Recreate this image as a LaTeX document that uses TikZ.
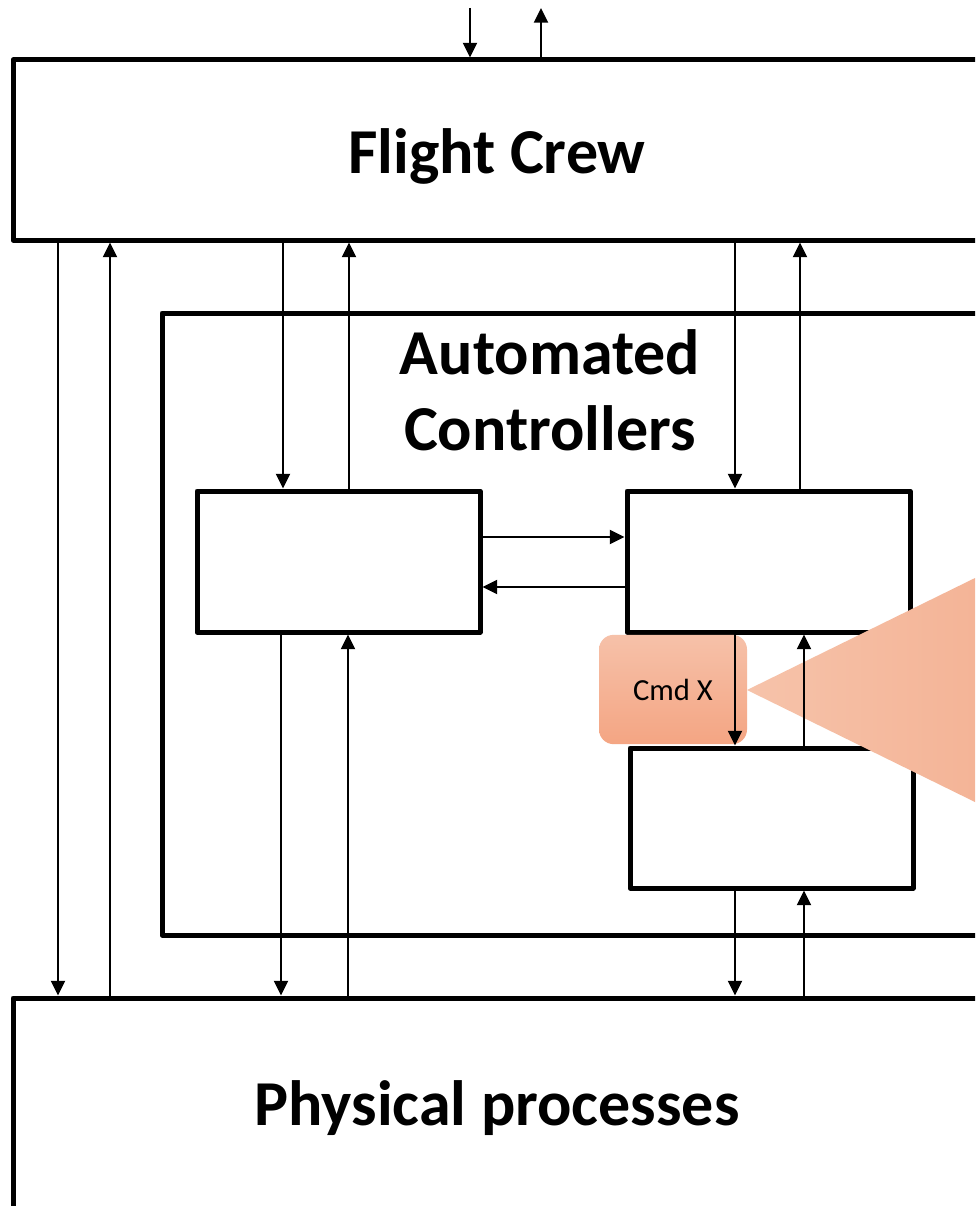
\documentclass[tikz,border=0pt]{standalone}
\usepackage{fontspec}
\setmainfont{Carlito}
\usetikzlibrary{arrows.meta,fit}
\definecolor{cmdtop}{HTML}{F6C1A9}
\definecolor{cmdbot}{HTML}{F4A583}
\definecolor{trileft}{HTML}{F6C3AA}
\definecolor{triright}{HTML}{F4B497}
\begin{document}
\begin{tikzpicture}[x=0.75pt,y=-0.75pt,
  box/.style={draw, line width=3.75pt, line join=round, inner sep=0pt},
  arr/.style={line width=1.5pt, -{Triangle[length=11pt,width=10.5pt]}},
  big/.style={font=\fontsize{48}{57}\selectfont\bfseries, align=center},
  cmdbox/.style={rounded corners=11pt, top color=cmdtop, bottom color=cmdbot, draw=none,
    minimum width=111pt, minimum height=82pt, font=\fontsize{23}{28}\selectfont},
]
\clip (0,0) rectangle (975,1206);
\fill[white] (0,0) rectangle (975,1206);
% corner coordinates
\coordinate (crewnw) at (13,60);   \coordinate (crewse) at (1010,240);
\coordinate (autonw) at (162,313); \coordinate (autose) at (1010,935);
\coordinate (physnw) at (13,998);  \coordinate (physse) at (1010,1230);
\coordinate (anw) at (197,491); \coordinate (ase) at (480,632);
\coordinate (bnw) at (627,491); \coordinate (bse) at (910,632);
\coordinate (cnw) at (630,748); \coordinate (cse) at (913,888);
% boxes
\node[box, fit=(crewnw)(crewse)] (crew) {};
\node[box, fit=(autonw)(autose)] (auto) {};
\node[box, fit=(physnw)(physse)] (phys) {};
\node[box, fit=(anw)(ase)] (A) {};
\node[box, fit=(bnw)(bse)] (B) {};
\node[box, fit=(cnw)(cse)] (C) {};
% labels
\node[big] (crewlbl) at (497,156) {Flight Crew};
\node[big] (autolbl) at (550,390) {Automated\\Controllers};
\node[big] (physlbl) at (497,1108) {Physical processes};
% Cmd X highlight
\node[cmdbox] (cmd) at (673,689.5) {Cmd X};
\shade[left color=trileft, right color=triright] (747,690) -- (975,578) -- (975,802) -- cycle;
% external arrows at top
\coordinate (in1) at (470,8);
\coordinate (out1) at (541,8);
\draw[arr] (in1) -- (in1 |- crew.north);
\draw[arr] (out1 |- crew.north) -- (out1);
% crew <-> physical directly
\draw[arr] (58,0 |- crew.south) -- (58,0 |- phys.north);
\draw[arr] (110,0 |- phys.north) -- (110,0 |- crew.south);
% crew <-> A
\draw[arr] (283,0 |- crew.south) -- (283,0 |- A.north);
\draw[arr] (349,0 |- A.north) -- (349,0 |- crew.south);
% crew <-> B
\draw[arr] (735,0 |- crew.south) -- (735,0 |- B.north);
\draw[arr] (800,0 |- B.north) -- (800,0 |- crew.south);
% A <-> B
\draw[arr] (A.east |- 0,537) -- (B.west |- 0,537);
\draw[arr] (B.west |- 0,587) -- (A.east |- 0,587);
% A <-> physical
\draw[arr] (281,0 |- A.south) -- (281,0 |- phys.north);
\draw[arr] (348,0 |- phys.north) -- (348,0 |- A.south);
% B <-> C
\draw[arr] (735,0 |- B.south) -- (735,0 |- C.north);
\draw[arr] (804,0 |- C.north) -- (804,0 |- B.south);
% C <-> physical
\draw[arr] (735,0 |- C.south) -- (735,0 |- phys.north);
\draw[arr] (804,0 |- phys.north) -- (804,0 |- C.south);
\end{tikzpicture}
\end{document}
